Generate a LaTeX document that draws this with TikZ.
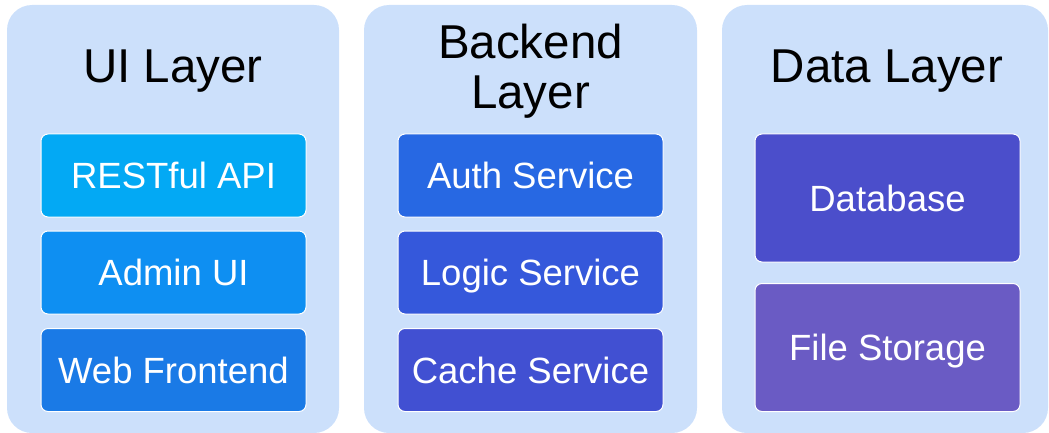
\documentclass[tikz,border=0pt]{standalone}
\usepackage{fontspec}
\setmainfont{Liberation Sans}
\begin{document}
\begin{tikzpicture}[x=1pt,y=-1pt,
  panel/.style={fill=panelbg, draw=none, rounded corners=25pt},
  title/.style={font=\fontsize{47.5}{50}\selectfont, text=black, align=center, inner sep=0pt},
  comp/.style={draw=white, line width=1pt, rounded corners=7pt, text=white,
    font=\fontsize{36.5}{40}\selectfont, inner sep=0pt,
    text height=26pt, text depth=0pt,
    minimum width=265pt, minimum height=83pt},
  tall/.style={minimum height=128pt}]
\definecolor{panelbg}{HTML}{CCE0FB}
\definecolor{cRest}{HTML}{03A9F4}
\definecolor{cAdmin}{HTML}{0E8FF2}
\definecolor{cWeb}{HTML}{1A7AE6}
\definecolor{cAuth}{HTML}{2768E3}
\definecolor{cLogic}{HTML}{3558DB}
\definecolor{cCache}{HTML}{4150D2}
\definecolor{cDb}{HTML}{4B4ECB}
\definecolor{cFile}{HTML}{6A5BC4}

\useasboundingbox (0,0) rectangle (1049,433);

% layer panels
\fill[panel] (7,5) rectangle (339,433);
\fill[panel] (364,5) rectangle (697,433);
\fill[panel] (722,5) rectangle (1048,433);

% layer titles
\node[title, anchor=base] (tUI) at (173,83) {UI Layer};
\node[title] (tBack) at (530.5,71) {Backend\\Layer};
\node[title, anchor=base] (tData) at (887,83) {Data Layer};

% UI layer
\node[comp, fill=cRest]  (rest)  at (173.5,175.5) {RESTful API};
\node[comp, fill=cAdmin] (admin) at (173.5,272.5) {Admin UI};
\node[comp, fill=cWeb]   (web)   at (173.5,370)   {Web Frontend};

% backend layer
\node[comp, fill=cAuth]  (auth)  at (530.5,175.5) {Auth Service};
\node[comp, fill=cLogic] (logic) at (530.5,272.5) {Logic Service};
\node[comp, fill=cCache] (cache) at (530.5,370)   {Cache Service};

% data layer
\node[comp, tall, fill=cDb]   (db)   at (887.5,198) {Database};
\node[comp, tall, fill=cFile] (file) at (887.5,347.5) {File Storage};
\end{tikzpicture}
\end{document}
